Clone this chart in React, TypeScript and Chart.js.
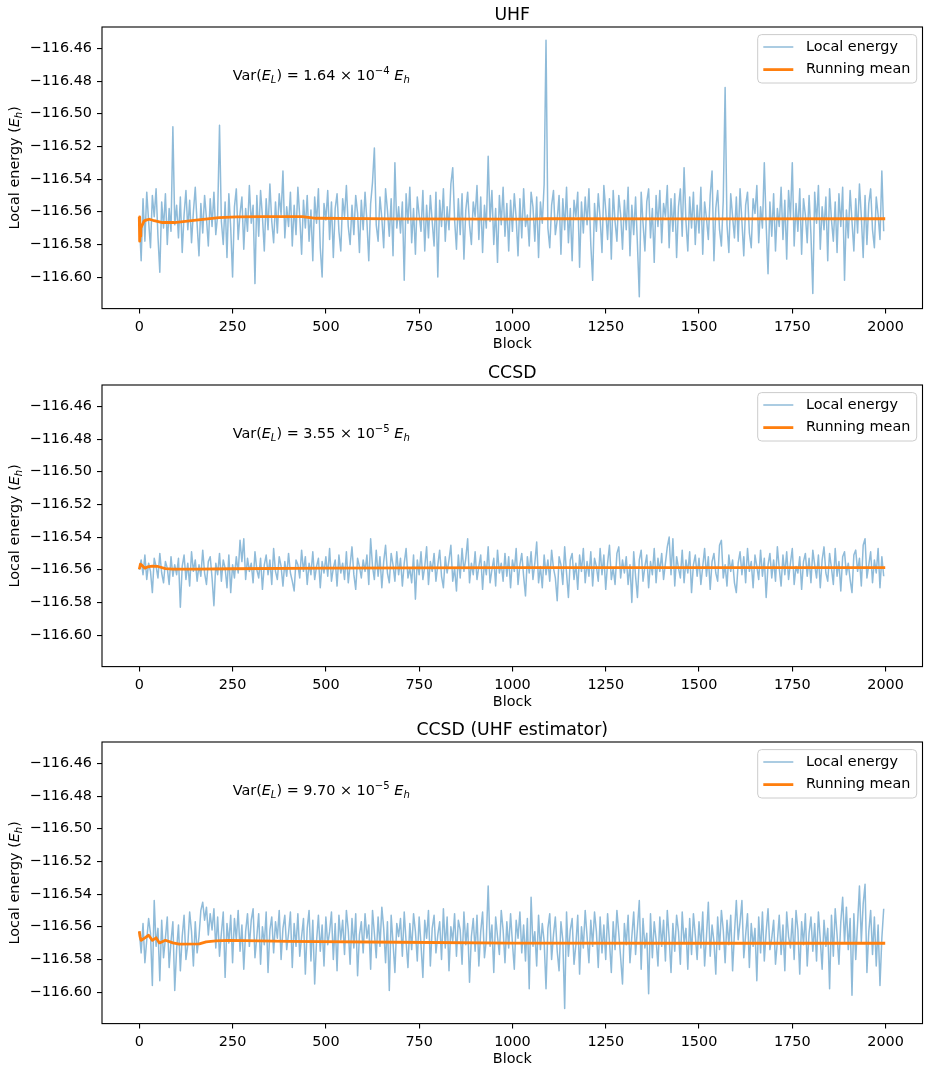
import React, { useEffect, useRef } from "react";
import { Chart, registerables } from "chart.js";

Chart.register(...registerables);

const FONT = '"DejaVu Sans", "Liberation Sans", sans-serif';
const TEXT_SIZE = 14.4;
const TITLE_SIZE = 17.3;

// Blocks are sampled every BLOCK_STEP; local energies are stored in mEh relative to E_REF.
const BLOCK_STEP = 5;
const E_REF = -116.56;

const xTickValues = [0, 250, 500, 750, 1000, 1250, 1500, 1750, 2000];
const yTickValues = [-116.46, -116.48, -116.5, -116.52, -116.54, -116.56, -116.58, -116.6];
const X_LIMITS = [-99.95, 2098.95];
const Y_LIMITS = [-116.6193, -116.4469];

const panelTitles = ["UHF", "CCSD", "CCSD (UHF estimator)"];
const varMantissa = ["1.64", "3.55", "9.70"];
const varExponent = ["\u22124", "\u22125", "\u22125"];

const uhfLocal = [
  -4, -30, 8, -18, 12, -6, -22, 10, -3, 14, -15, -37, 6, -10, 11, -20, 2, -12, 52, -8,
  4, -16, 9, -25, -2, 13, -11, 7, -19, 0, 15, -8, -27, 5, -13, 10, -4, -21, 8, -9,
  12, -14, -2, 53, -6, -20, 6, -28, 11, -10, -40, 3, 14, -17, -1, 9, -23, 2, -12, 16,
  -7, 4, -44, 10, -15, 13, -3, -24, 8, -11, 17, -6, -19, 6, -13, 11, -2, 25, -16, 3,
  -9, 12, -21, 4, -14, 15, -3, -26, 7, -10, 10, -18, 1, -30, 9, -7, 14, -22, -40, 5,
  -5, 13, -17, 6, -28, 2, 11, -12, -24, 8, -3, 16, -9, -20, 4, -14, 10, -1, -25, 7,
  -11, 12, -6, -30, 5, 18, 39, -8, -18, 9, -4, -22, 14, 1, -15, 8, -27, 30, -10, 3,
  -13, 6, -42, 11, -7, 15, -19, 2, -26, 9, -2, -12, 13, -24, 4, -16, 10, -6, -21, 12,
  -40, 7, -9, 14, -18, 3, -11, 17, 27, -5, -23, 8, -14, 11, -29, 1, 12, -8, -20, 6,
  -3, 16, -17, 9, -25, 4, -10, 34, -6, 13, -20, 2, -31, 10, -8, 15, -15, 5, -24, 7,
  -12, 11, -4, -27, 8, -16, 14, -9, -2, -21, 12, 3, -18, 9, -28, 6, -7, 17, 105, -10,
  -22, 4, 13, -14, -5, 10, -26, 8, -11, 15, -19, 2, -30, 7, -3, 12, -34, 6, -13, 9,
  -8, 14, -20, -42, 5, -12, 11, -4, -25, 16, 1, -17, 8, -29, 13, -6, -18, 10, -2, -23,
  7, -11, 15, -27, 4, -14, 9, -20, -52, 12, -7, -24, 6, 14, -16, 2, -31, 10, -9, 13,
  -19, 5, -3, 16, -22, 8, -12, 11, -28, 3, 14, -15, 27, -6, -24, 9, -10, 12, -20, 4,
  -13, 15, -26, 6, -4, -17, 10, 25, -30, 2, 13, -11, -21, 7, 76, -8, -25, 11, -3, -16,
  9, -18, 14, -6, -27, 4, 12, -13, -22, 8, -1, 16, -19, 3, -10, 30, -8, -38, 6, -15,
  11, -24, 2, -9, 15, -17, 7, -29, 13, -4, 30, -21, 5, -12, 14, -26, 8, -2, -19, 10,
  -14, -50, 12, -7, 16, -23, 3, -11, 9, -30, 14, -5, -18, 6, -25, 11, -9, 15, -42, 1,
  -16, 13, -6, -24, 8, -13, 17, -3, -28, 10, -20, 5, 14, -11, -22, 9, -2, -17, 25, -12,
];

const ccsdLocal = [
  0, 6, -3, 9, -6, 4, -1, -14, 7, 2, -5, 10, -2, -8, 5, 1, -9, 8, -4, 3,
  -3, 7, -23, 2, 9, -6, 4, -10, 11, -1, 6, -7, 3, -4, 12, -2, -9, 5, 8, -5,
  -22, 4, -3, 10, -7, 6, 1, -11, 9, -14, 3, -5, 8, -2, 18, 5, 19, -6, 7, -1,
  4, -8, 11, 0, -5, 7, -12, 3, 9, -3, 6, -9, 13, -1, -6, 8, 2, -10, 5, -4,
  10, -2, -7, -13, 6, 3, -5, 12, -1, 8, -9, 4, -3, 11, -6, 2, 7, -11, 5, -2,
  8, -4, 13, -7, 1, 6, -10, 9, -2, 4, -6, 11, -8, 3, 14, -3, -12, 7, 2, -5,
  6, -1, 9, -9, 19, 2, -6, 12, -4, 8, -11, 5, 15, -2, -8, 10, 3, -7, 11, -3,
  7, -10, 4, 13, -5, 1, -8, 9, -18, 6, -3, 11, -6, 2, 14, -9, 5, -1, 10, -7,
  3, 12, -4, -11, 8, -2, 6, 15, -7, 1, -13, 9, -5, 13, -1, 7, 19, -8, 4, -3,
  11, -6, 2, 9, -12, 5, -3, 14, -8, 0, 7, -10, 12, -2, 4, -7, 10, -4, 8, -11,
  6, -1, 13, -9, 3, 10, -4, -16, 8, -2, 11, -6, 4, 17, -8, 2, -11, 9, -3, 6,
  -7, 12, 1, -5, -19, 8, 3, -9, 14, -2, -17, 6, 10, -6, 4, -12, 9, -1, 13, -8,
  5, -4, 11, -10, 7, 2, -7, 13, -3, 9, -12, 4, 15, -6, 1, -9, 10, 14, -5, 6,
  -2, 8, -9, 3, -20, 11, -4, -17, 6, 12, -7, 2, 9, -11, 5, -3, 13, -8, 7, -1,
  10, -6, 4, 14, 20, -3, 19, -10, 8, 1, -5, 12, -8, 6, -2, 11, -14, 3, 9, -4,
  7, -9, 2, 13, -4, 8, -12, 5, 10, -2, -7, 15, 18, -5, 3, -10, 9, -1, 6, -8,
  -14, 4, 11, -3, 8, -8, 13, -1, 5, -11, 9, 2, -6, 12, -4, 7, -17, 3, 10, -5,
  6, -7, 14, 1, -10, 9, -3, 11, -6, 4, 13, -9, 2, -2, 8, -12, 5, 10, -4, 7,
  -8, 12, 3, -5, 9, -11, 6, 14, -2, -7, 10, 1, -9, 13, -4, 5, -13, 8, 11, -3,
  4, -6, -14, 9, 12, -1, 7, -10, 15, 19, -5, 3, 11, -8, 6, -2, 13, -11, 8, -4,
];

const ccsdUhfLocal = [
  -3, -16, 2, -22, -8, 5, -4, -36, 16, -12, -1, -33, 4, -19, -7, 6, -25, -9, 3, -39,
  -14, 1, -27, -6, 7, -20, -11, 9, -3, -24, 3, -16, -6, 10, 15, 4, 12, -5, 8, -2,
  11, -13, 6, -18, -4, 9, -31, 2, -10, 7, -22, 5, -8, 10, -15, 1, -26, -3, 8, -12,
  4, 11, -19, -6, 8, -23, 0, -11, 9, -28, -2, 6, -16, 3, -7, 10, -20, -1, 7, -14,
  -4, 9, -25, 2, -12, 8, -18, -6, 5, -29, -1, 10, -21, 4, -35, -9, 7, -15, 1, -24,
  6, -11, -3, 9, -20, 2, -27, 7, -8, 4, -17, 10, -2, -23, 5, -13, 8, -30, -5, 3,
  -16, 8, -7, 1, -26, 10, -4, -19, 6, -12, 12, -1, -22, 3, -39, 7, -10, -28, 2, -6,
  5, -18, 9, -9, -25, 2, -14, 8, -3, -21, 6, -11, -31, 4, -7, 10, -24, -1, 7, -16,
  -5, 3, -20, 11, -13, 6, -27, 0, -9, 8, -18, 4, -2, -23, 9, -11, 2, -34, -6, 5,
  -15, 7, -24, -3, 9, -19, -8, 25, -12, 1, -28, 6, -6, -17, 10, -2, -22, 3, -13, 8,
  -10, -26, 4, -7, 9, -16, 1, -21, 5, -38, 18, -12, -3, -24, 7, -14, 2, -9, -38, -1,
  8, -20, -5, 6, -15, -27, 3, -8, -50, 9, -18, -2, 5, -23, -11, 7, -29, 0, -13, 10,
  -6, -22, 4, -12, 9, -3, -25, 6, -16, 1, -20, 8, -9, -28, 3, -14, 10, -4, -19, -35,
  2, -11, 7, -22, -6, 9, -17, -1, 16, -26, 5, -13, -4, -41, 8, -19, 3, -8, -24, 6,
  -12, 4, -21, 10, -7, -28, 2, -15, 7, -3, -23, 9, -10, -1, -26, 5, -17, 8, -5, -20,
  3, -13, 9, -24, -6, 15, -18, 1, -9, -29, 6, -14, 10, -2, -22, 4, -11, 7, -27, -4,
  16, -8, 3, 16, -19, -5, 8, -25, 2, -12, -1, -33, 6, -16, 9, -21, -3, 11, -14, -7,
  4, -23, -9, 7, -17, 1, -27, 9, -6, -13, 5, -20, 10, -2, -29, 3, -11, 8, -24, -4,
  6, -15, 2, -21, 9, -8, -26, 4, -12, -1, -38, 7, -18, 11, -5, -23, 3, 18, -10, 12,
  -14, 5, -42, 8, -20, 2, 25, -9, 14, 26, -28, -3, 10, -17, 6, -24, 1, -36, -7, 11,
];

// Running means (Eh) at selected blocks
const uhfMeanBlocks = [0, 1, 2, 4, 8, 13, 20, 27, 40, 62, 94, 152, 214, 260, 330, 437, 473, 687, 1044, 1090, 1500, 1999];
const uhfMean = [
  -116.5632, -116.578, -116.575, -116.57, -116.568, -116.5656, -116.565, -116.5646, -116.5655, -116.5666, -116.5666,
  -116.5652, -116.5636, -116.5632, -116.563, -116.563, -116.564, -116.5644, -116.5645, -116.5642, -116.5644, -116.5643,
];
const ccsdMeanBlocks = [0, 3, 8, 15, 22, 35, 50, 70, 90, 150, 250, 500, 1000, 1500, 1999];
const ccsdMean = [
  -116.5597, -116.5566, -116.5575, -116.559, -116.5583, -116.5578, -116.558, -116.5593, -116.5596, -116.5596,
  -116.5594, -116.559, -116.5587, -116.5587, -116.5587,
];
const ccsdUhfMeanBlocks = [0, 2, 5, 15, 25, 35, 45, 54, 70, 90, 107, 161, 179, 205, 241, 400, 700, 1000, 1500, 1999];
const ccsdUhfMean = [
  -116.5628, -116.566, -116.5683, -116.5668, -116.5652, -116.5683, -116.5668, -116.5699, -116.5683, -116.5699,
  -116.5707, -116.5705, -116.5693, -116.5687, -116.5683, -116.569, -116.5695, -116.57, -116.5701, -116.5701,
];

const panels = [
  { title: panelTitles[0], mant: varMantissa[0], exp: varExponent[0], local: uhfLocal, meanBlocks: uhfMeanBlocks, mean: uhfMean },
  { title: panelTitles[1], mant: varMantissa[1], exp: varExponent[1], local: ccsdLocal, meanBlocks: ccsdMeanBlocks, mean: ccsdMean },
  { title: panelTitles[2], mant: varMantissa[2], exp: varExponent[2], local: ccsdUhfLocal, meanBlocks: ccsdUhfMeanBlocks, mean: ccsdUhfMean },
];

const CANVAS_W = 931;
const CANVAS_H = 357;
const CANVAS_TOPS = [0, 358, 715];
const LOCAL_COLOR = "rgba(31,119,180,0.5)";
const MEAN_COLOR = "#ff7f0e";

type Piece = { t: string; it?: boolean; sub?: boolean; sup?: boolean };

function pieceFont(p: Piece, size: number) {
  const s = p.sub || p.sup ? size * 0.7 : size;
  return `${p.it ? "italic " : ""}${s}px ${FONT}`;
}

function measureRich(ctx: CanvasRenderingContext2D, pieces: Piece[], size: number) {
  let w = 0;
  for (const p of pieces) {
    ctx.font = pieceFont(p, size);
    w += ctx.measureText(p.t).width;
  }
  return w;
}

function drawRich(ctx: CanvasRenderingContext2D, pieces: Piece[], x: number, y: number, size: number) {
  ctx.textAlign = "left";
  ctx.textBaseline = "alphabetic";
  let cx = x;
  for (const p of pieces) {
    ctx.font = pieceFont(p, size);
    const dy = p.sub ? size * 0.22 : p.sup ? -size * 0.42 : 0;
    ctx.fillText(p.t, cx, y + dy);
    cx += ctx.measureText(p.t).width;
  }
}

function roundedRect(ctx: CanvasRenderingContext2D, x: number, y: number, w: number, h: number, r: number) {
  ctx.beginPath();
  ctx.moveTo(x + r, y);
  ctx.arcTo(x + w, y, x + w, y + h, r);
  ctx.arcTo(x + w, y + h, x, y + h, r);
  ctx.arcTo(x, y + h, x, y, r);
  ctx.arcTo(x, y, x + w, y, r);
  ctx.closePath();
}

function makeChart(canvas: HTMLCanvasElement, p: (typeof panels)[number]) {
  const localPoints = p.local.map((d, i) => ({ x: i * BLOCK_STEP, y: E_REF + d / 1000 }));
  const meanPoints = p.meanBlocks.map((b, i) => ({ x: b, y: p.mean[i] }));

  const decor = {
    id: "decor",
    afterDraw(chart: Chart) {
      const ctx = chart.ctx;
      const a = chart.chartArea;
      ctx.save();

      ctx.strokeStyle = "#000";
      ctx.lineWidth = 1.1;
      ctx.strokeRect(a.left, a.top, a.right - a.left, a.bottom - a.top);

      ctx.fillStyle = "#000";
      ctx.font = `${TITLE_SIZE}px ${FONT}`;
      ctx.textAlign = "center";
      ctx.textBaseline = "alphabetic";
      ctx.fillText(p.title, (a.left + a.right) / 2, a.top - 7.5);

      ctx.font = `${TEXT_SIZE}px ${FONT}`;
      ctx.textBaseline = "middle";
      ctx.fillText("Block", (a.left + a.right) / 2, a.bottom + 35.5);

      const ylab: Piece[] = [{ t: "Local energy (" }, { t: "E", it: true }, { t: "h", it: true, sub: true }, { t: ")" }];
      const yw = measureRich(ctx, ylab, TEXT_SIZE);
      ctx.save();
      ctx.translate(18.5, (a.top + a.bottom) / 2);
      ctx.rotate(-Math.PI / 2);
      drawRich(ctx, ylab, -yw / 2, 0, TEXT_SIZE);
      ctx.restore();

      const note: Piece[] = [
        { t: "Var(" },
        { t: "E", it: true },
        { t: "L", it: true, sub: true },
        { t: ") = " + p.mant + " \u00d7 10" },
        { t: p.exp, sup: true },
        { t: " " },
        { t: "E", it: true },
        { t: "h", it: true, sub: true },
      ];
      drawRich(ctx, note, a.left + 130.7, a.top + 52.8, TEXT_SIZE);

      const lw = 159;
      const lh = 48.4;
      const lx = a.right - 5.8 - lw;
      const ly = a.top + 7.6;
      roundedRect(ctx, lx, ly, lw, lh, 4);
      ctx.fillStyle = "rgba(255,255,255,0.8)";
      ctx.fill();
      ctx.strokeStyle = "#cccccc";
      ctx.lineWidth = 1;
      ctx.stroke();

      const rows = [
        { label: "Local energy", color: LOCAL_COLOR, width: 1.5, dy: 12.4 },
        { label: "Running mean", color: MEAN_COLOR, width: 2.8, dy: 35 },
      ];
      for (const r of rows) {
        ctx.beginPath();
        ctx.moveTo(lx + 5.6, ly + r.dy);
        ctx.lineTo(lx + 35.6, ly + r.dy);
        ctx.strokeStyle = r.color;
        ctx.lineWidth = r.width;
        ctx.stroke();
        ctx.fillStyle = "#000";
        ctx.font = `${TEXT_SIZE}px ${FONT}`;
        ctx.textAlign = "left";
        ctx.textBaseline = "middle";
        ctx.fillText(r.label, lx + 48.3, ly + r.dy);
      }

      ctx.restore();
    },
  };

  const tickFont = { family: FONT, size: TEXT_SIZE };
  const tickGrid = { display: true, drawOnChartArea: false, drawTicks: true, tickLength: 5, color: "#000", lineWidth: 1.1 };

  return new Chart(canvas, {
    type: "line",
    data: {
      datasets: [
        {
          label: "Running mean",
          data: meanPoints,
          borderColor: MEAN_COLOR,
          borderWidth: 2.8,
          pointRadius: 0,
          tension: 0,
          borderJoinStyle: "round",
          order: 0,
        },
        {
          label: "Local energy",
          data: localPoints,
          borderColor: LOCAL_COLOR,
          borderWidth: 1.5,
          pointRadius: 0,
          tension: 0,
          borderJoinStyle: "round",
          order: 1,
        },
      ],
    },
    options: {
      responsive: false,
      animation: false,
      devicePixelRatio: 1,
      events: [],
      layout: { padding: { top: 27, right: 8.5, bottom: 0, left: 0 } },
      plugins: { legend: { display: false }, tooltip: { enabled: false }, title: { display: false } },
      scales: {
        x: {
          type: "linear",
          min: X_LIMITS[0],
          max: X_LIMITS[1],
          afterFit: (s: any) => {
            s.height = 48.4;
          },
          afterBuildTicks: (s: any) => {
            s.ticks = xTickValues.map((v) => ({ value: v }));
          },
          ticks: {
            autoSkip: false,
            maxRotation: 0,
            padding: 5,
            color: "#000",
            font: tickFont,
            callback: (v: any) => String(v),
          },
          grid: tickGrid,
          border: { display: false },
        },
        y: {
          type: "linear",
          min: Y_LIMITS[0],
          max: Y_LIMITS[1],
          afterFit: (s: any) => {
            s.width = 102;
          },
          afterBuildTicks: (s: any) => {
            s.ticks = yTickValues.map((v) => ({ value: v }));
          },
          ticks: {
            autoSkip: false,
            padding: 5,
            color: "#000",
            font: tickFont,
            callback: (v: any) => "\u2212" + Math.abs(Number(v)).toFixed(2),
          },
          grid: tickGrid,
          border: { display: false },
        },
      },
    } as any,
    plugins: [decor as any],
  });
}

export default function App() {
  const r0 = useRef<HTMLCanvasElement>(null);
  const r1 = useRef<HTMLCanvasElement>(null);
  const r2 = useRef<HTMLCanvasElement>(null);
  const refs = [r0, r1, r2];

  useEffect(() => {
    const charts = panels.map((p, i) => makeChart(refs[i].current as HTMLCanvasElement, p));
    return () => charts.forEach((c) => c.destroy());
  }, []);

  return (
    <div style={{ position: "absolute", left: 0, top: 0, width: CANVAS_W, height: 1072, background: "#fff" }}>
      {panels.map((p, i) => (
        <canvas
          key={p.title}
          ref={refs[i]}
          width={CANVAS_W}
          height={CANVAS_H}
          style={{ position: "absolute", left: 0, top: CANVAS_TOPS[i], display: "block" }}
        />
      ))}
    </div>
  );
}
